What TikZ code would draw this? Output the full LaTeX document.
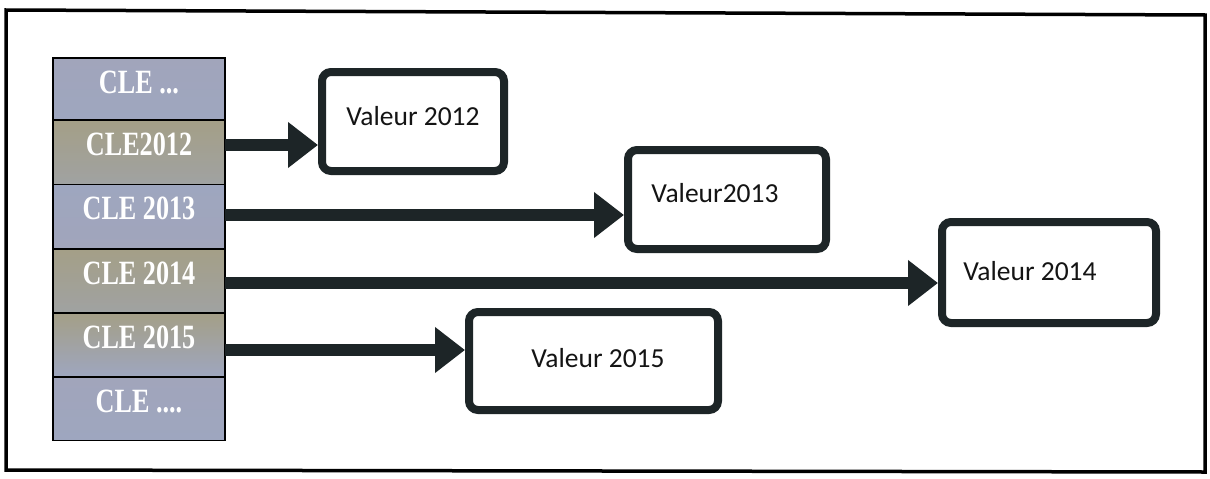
\documentclass[tikz,border=0pt]{standalone}
\usepackage{fontspec}
\usetikzlibrary{arrows.meta}
\newfontfamily\clefont[FakeStretch=0.77]{Liberation Serif}
\newfontfamily\valfont{Carlito}
\definecolor{blueA}{HTML}{A1A5BB}
\definecolor{blueB}{HTML}{9EA6BF}
\definecolor{khakiA}{HTML}{A49F87}
\definecolor{khakiB}{HTML}{A0A2A2}
\definecolor{ink}{HTML}{1D2527}
\tikzset{
  keycell/.style={draw=black, line width=1.4pt, minimum width=172pt, inner sep=0pt, outer sep=0pt},
  cletxt/.style={text=white, font=\clefont\bfseries\fontsize{34}{34}\selectfont, inner sep=0pt},
  valbox/.style={draw=ink, line width=8pt, rounded corners=9pt, fill=white, inner sep=0pt},
  valtxt/.style={text=black!92, font=\valfont\fontsize{27.5}{28}\selectfont, inner sep=0pt},
  link/.style={draw=ink, line width=12pt, -{Triangle[length=30pt,width=44pt]}}
}
\begin{document}
\begin{tikzpicture}[x=1pt,y=-1pt]
\useasboundingbox[fill=white] (0,0) rectangle (1210,479);
% outer frame
\draw[line width=3.5pt, line join=miter] (6,10) -- (1205,15) -- (1205,472) -- (6,470) -- cycle;

% key column, each cell shaded from top to bottom
\node[keycell, top color=blueA,  bottom color=blueB,  minimum height=62pt] (k1) at (139,89)    {};
\node[keycell, top color=khakiA, bottom color=khakiB, minimum height=64pt] (k2) at (139,152.5) {};
\node[keycell, top color=blueB,  bottom color=blueA,  minimum height=65pt] (k3) at (139,217)   {};
\node[keycell, top color=khakiA, bottom color=khakiB, minimum height=64pt] (k4) at (139,281)   {};
\node[keycell, top color=khakiA, bottom color=blueB,  minimum height=64pt] (k5) at (139,345)   {};
\node[keycell, top color=blueA,  bottom color=blueB,  minimum height=63pt] (k6) at (139,409)   {};

\node[cletxt, yshift=7pt] (c1) at (k1) {CLE ...};
\node[cletxt, yshift=8pt] (c2) at (k2) {CLE2012};
\node[cletxt, yshift=9pt] (c3) at (k3) {CLE 2013};
\node[cletxt, yshift=8pt] (c4) at (k4) {CLE 2014};
\node[cletxt, yshift=8pt] (c5) at (k5) {CLE 2015};
\node[cletxt, yshift=8pt] (c6) at (k6) {CLE ....};

% value boxes
\node[valbox, minimum width=182pt, minimum height=99pt]  (v1) at (413,121.5) {};
\node[valbox, minimum width=198pt, minimum height=99pt]  (v2) at (727,199.5) {};
\node[valbox, minimum width=214pt, minimum height=101pt] (v3) at (1049,272.5) {};
\node[valbox, minimum width=249pt, minimum height=98pt]  (v4) at (593.5,361) {};

\node[valtxt] (t1) at (413,116)  {Valeur 2012};
\node[valtxt] (t2) at (715,193)  {Valeur2013};
\node[valtxt] (t3) at (1030,271) {Valeur 2014};
\node[valtxt] (t4) at (598,358)  {Valeur 2015};

% links from keys to values
\draw[link] (k2.east |- 0,145) -- (v1.west |- 0,145);
\draw[link] (k3.east |- 0,215) -- (v2.west |- 0,215);
\draw[link] (k4.east |- 0,283) -- (v3.west |- 0,283);
\draw[link] (k5.east |- 0,350) -- (v4.west |- 0,350);
\end{tikzpicture}
\end{document}
